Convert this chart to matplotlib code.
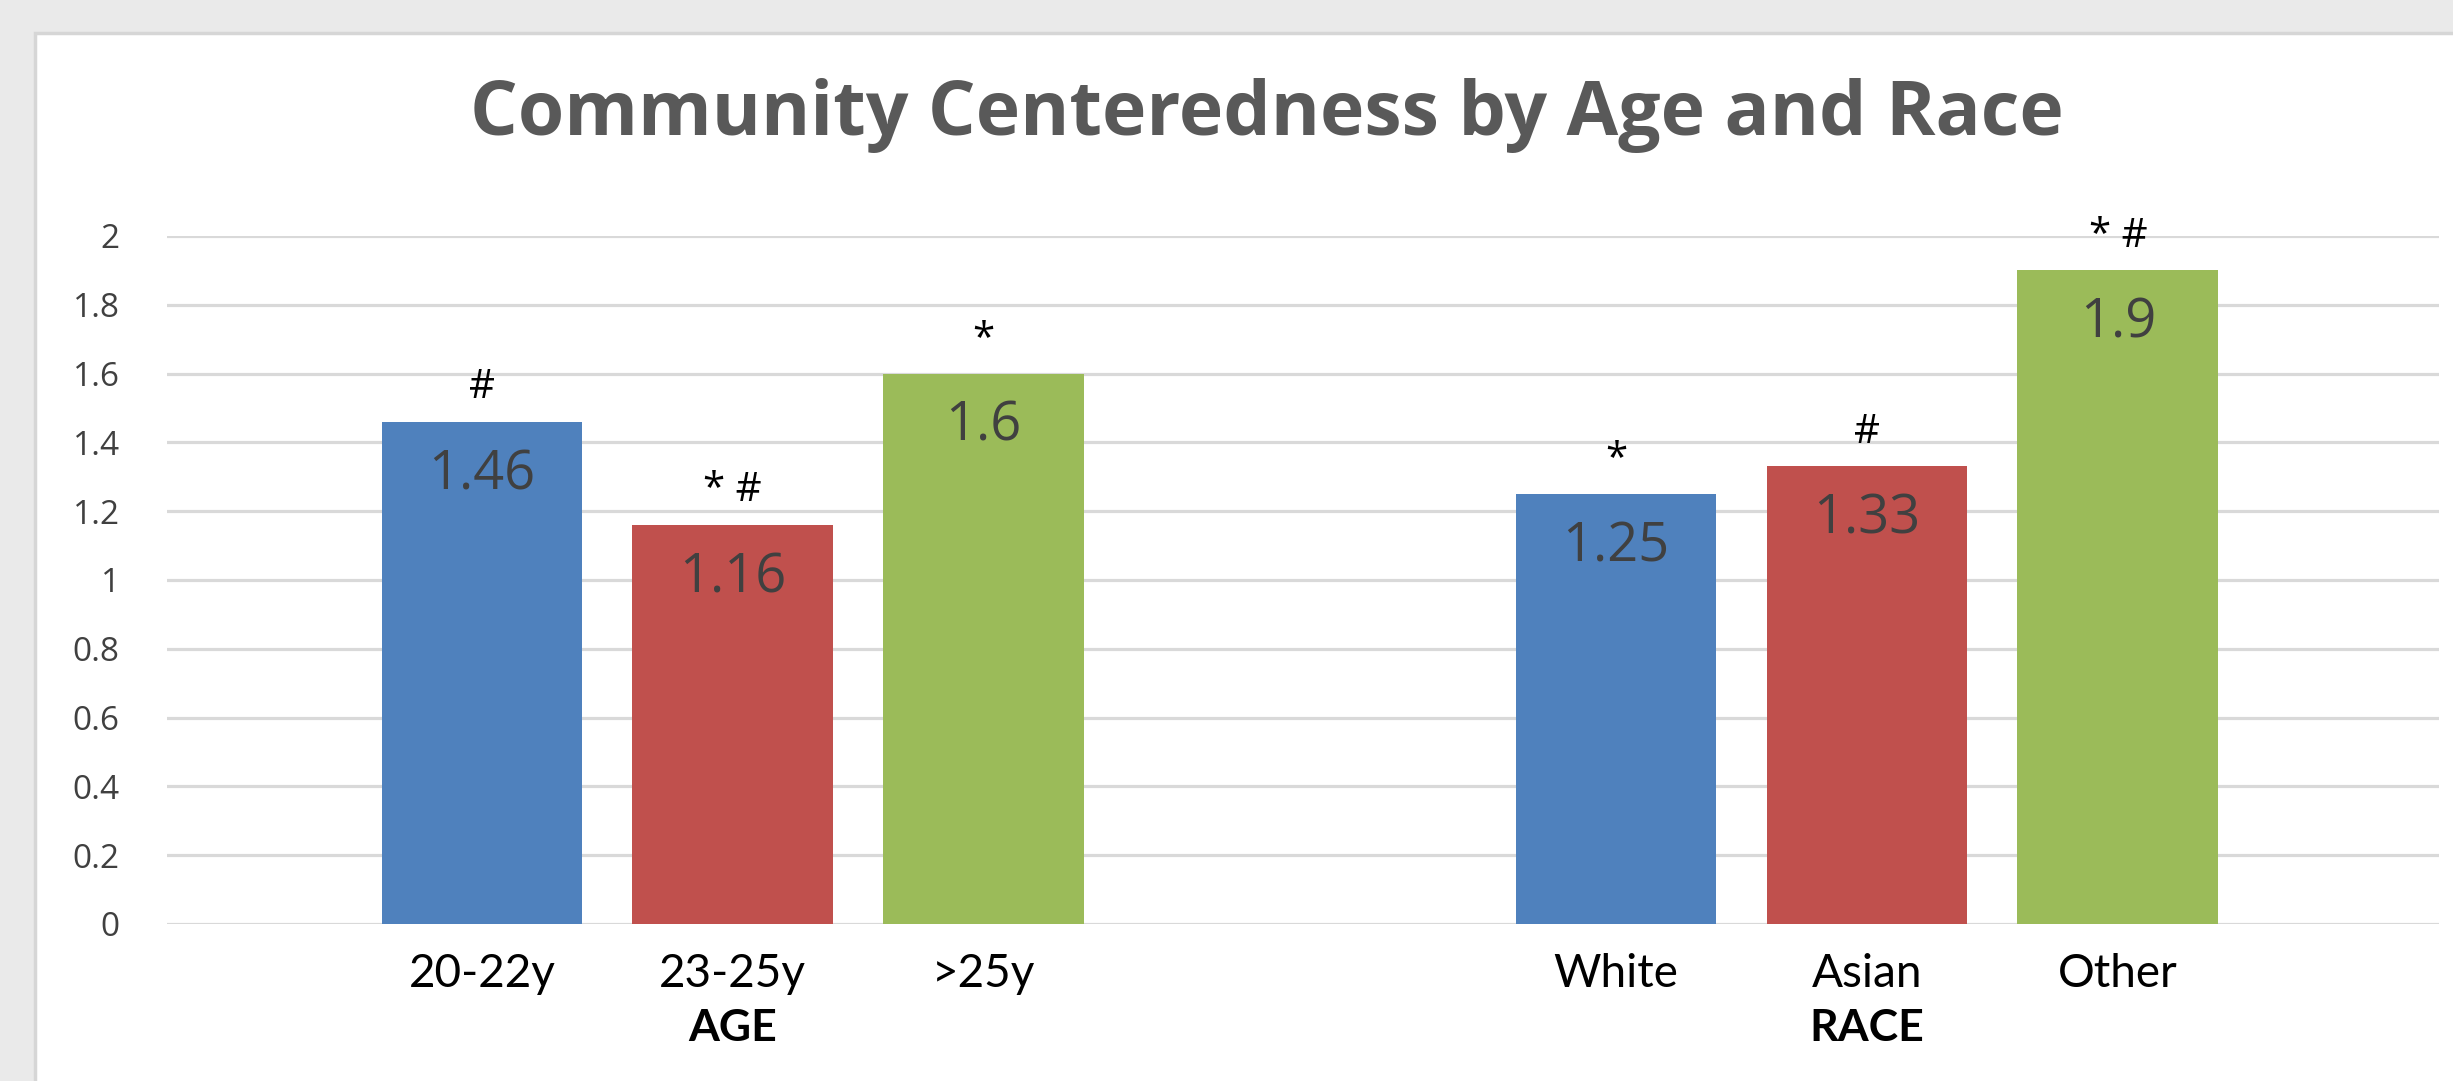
import numpy as np
import matplotlib.pyplot as plt
from matplotlib.patches import Rectangle

# Mean community centeredness scores
age_groups = ['20-22y', '23-25y', '>25y']
age_scores = [1.46, 1.16, 1.6]
age_marks = ['#', '* #', '*']

race_groups = ['White', 'Asian', 'Other']
race_scores = [1.25, 1.33, 1.9]
race_marks = ['*', '#', '* #']

colors = ['#4F81BD', '#C0504D', '#9BBB59']

# bar positions along the category axis (gap between the two groups)
age_x = np.array([0.0, 1.0, 2.0])
race_x = np.array([4.52, 5.52, 6.52])

fig = plt.figure(figsize=(24.53, 10.81), dpi=100, facecolor='#EAEAEA')

# white chart area with thin grey border
fig.patches.append(Rectangle((35 / 2453, -0.05), 1.1, 1 - 33 / 1081 + 0.05,
                             transform=fig.transFigure, facecolor='white',
                             edgecolor='#D6D6D6', linewidth=2.5, zorder=-1))

ax = fig.add_axes([167 / 2453, 1 - 924 / 1081, (2439 - 167) / 2453, (924 - 236) / 1081])
ax.set_facecolor('none')

x = np.concatenate([age_x, race_x])
scores = age_scores + race_scores
marks = age_marks + race_marks
ax.bar(x, scores, width=0.8, color=colors * 2, zorder=3)

ax.set_xlim(-1.255, 7.80)
ax.set_ylim(0, 2)
ax.set_yticks(np.arange(0, 2.01, 0.2))
ax.set_yticklabels(['{:g}'.format(round(v, 1)) for v in np.arange(0, 2.01, 0.2)],
                   fontfamily='Open Sans', fontsize=24, color='#404040')
ax.set_xticks(x)
ax.set_xticklabels(age_groups + race_groups, fontfamily='Lato', fontsize=33, color='black')
ax.tick_params(axis='y', length=0, pad=34)
ax.tick_params(axis='x', length=0, pad=21)
ax.grid(axis='y', color='#D9D9D9', linewidth=2.3, zorder=0)
ax.set_axisbelow(True)
for s in ax.spines.values():
    s.set_visible(False)

# value labels inside bars and significance marks above
for xi, v, m in zip(x, scores, marks):
    ax.annotate('{:g}'.format(v), (xi, v), xytext=(0, -38), textcoords='offset points',
                ha='center', va='center', fontfamily='Open Sans', fontsize=39,
                color='#404040', zorder=4)
    ax.annotate(m, (xi, v), xytext=(0, 17), textcoords='offset points',
                ha='center', va='baseline', fontfamily='Open Sans', fontsize=29,
                color='black', annotation_clip=False)

# group labels under the category names
for xi, name in [(age_x[1], 'AGE'), (race_x[1], 'RACE')]:
    ax.annotate(name, (xi, 0), xycoords=('data', 'axes fraction'), xytext=(0, -75),
                textcoords='offset points', ha='center', va='center',
                fontfamily='Lato', fontweight='bold', fontsize=32, color='black')

fig.text(1267 / 2453, 1 - 135 / 1081, 'Community Centeredness by Age and Race',
         ha='center', va='baseline', fontfamily='Open Sans', fontweight='bold',
         fontsize=54, color='#595959')

fig.savefig('out.png', dpi=100, facecolor=fig.get_facecolor())
